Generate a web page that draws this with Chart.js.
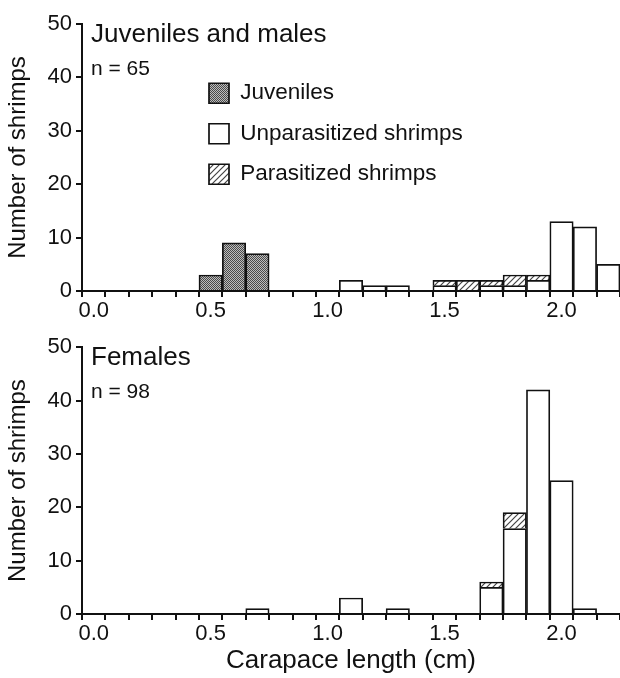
<!DOCTYPE html>
<html>
<head>
<meta charset="utf-8">
<script src="https://cdn.jsdelivr.net/npm/chart.js"></script>
<style>
  html, body { margin: 0; padding: 0; background: #fff; }
  .panel { position: absolute; left: 0; width: 620px; }
  #topPanel { top: 0; height: 330px; }
  #bottomPanel { top: 330px; height: 348px; }
</style>
</head>
<body>
<div class="panel" id="topPanel"><canvas id="maleChart"></canvas></div>
<div class="panel" id="bottomPanel"><canvas id="femaleChart"></canvas></div>
<script>
// Carapace length bins (cm), one per 0.1 cm class
var binLabels = ['0.0', '0.1', '0.2', '0.3', '0.4', '0.5', '0.6', '0.7', '0.8', '0.9', '1.0', '1.1',
                 '1.2', '1.3', '1.4', '1.5', '1.6', '1.7', '1.8', '1.9', '2.0', '2.1', '2.2'];
var yTicks = [0, 10, 20, 30, 40, 50];

// Juveniles and males (n = 65)
var maleJuveniles     = [0, 0, 0, 0, 0, 3, 9, 7, 0, 0, 0, 0, 0, 0, 0, 0, 0, 0, 0, 0, 0, 0, 0];
var maleUnparasitized = [0, 0, 0, 0, 0, 0, 0, 0, 0, 0, 0, 2, 1, 1, 0, 1, 0, 1, 1, 2, 13, 12, 5];
var maleParasitized   = [0, 0, 0, 0, 0, 0, 0, 0, 0, 0, 0, 0, 0, 0, 0, 1, 2, 1, 2, 1, 0, 0, 0];

// Females (n = 98)
var femaleUnparasitized = [0, 0, 0, 0, 0, 0, 0, 1, 0, 0, 0, 3, 0, 1, 0, 0, 0, 5, 16, 42, 25, 1, 0];
var femaleParasitized   = [0, 0, 0, 0, 0, 0, 0, 0, 0, 0, 0, 0, 0, 0, 0, 0, 0, 1, 3, 0, 0, 0, 0];

var INK = '#111';
var FONT = '"Liberation Sans", Arial, Helvetica, sans-serif';
Chart.defaults.font.family = FONT;
Chart.defaults.color = INK;

// Fill patterns: stipple for juveniles, diagonal hatch for parasitized
function makeStipple(ctx) {
  var c = document.createElement('canvas');
  c.width = 2; c.height = 2;
  var g = c.getContext('2d');
  g.fillStyle = '#bdbdbd';
  g.fillRect(0, 0, 2, 2);
  g.fillStyle = '#4a4a4a';
  g.fillRect(0, 0, 1, 1);
  g.fillRect(1, 1, 1, 1);
  return ctx.createPattern(c, 'repeat');
}

function makeHatch(ctx) {
  var c = document.createElement('canvas');
  c.width = 6; c.height = 6;
  var g = c.getContext('2d');
  g.fillStyle = '#fff';
  g.fillRect(0, 0, 6, 6);
  g.strokeStyle = '#444';
  g.lineWidth = 1.2;
  g.beginPath();
  g.moveTo(0, 6); g.lineTo(6, 0);
  g.moveTo(-1, 1); g.lineTo(1, -1);
  g.moveTo(5, 7); g.lineTo(7, 5);
  g.stroke();
  return ctx.createPattern(c, 'repeat');
}

// Panel heading + sample size, written inside the plot area
var panelLabelPlugin = {
  id: 'panelLabel',
  afterDraw: function(chart, args, opts) {
    var ctx = chart.ctx, area = chart.chartArea;
    ctx.save();
    ctx.fillStyle = INK;
    ctx.textAlign = 'left';
    ctx.textBaseline = 'alphabetic';
    ctx.font = '26px ' + FONT;
    ctx.fillText(opts.title, area.left + 9, area.top + 18);
    ctx.font = '21px ' + FONT;
    ctx.fillText(opts.note, area.left + 9, area.top + 51);
    ctx.restore();
  }
};

// Move the chartArea legend away from the top-left corner
var legendPlacePlugin = {
  id: 'legendPlace',
  afterLayout: function(chart, args, opts) {
    var lg = chart.legend;
    if (!lg || opts.left === undefined) return;
    lg.left = chart.chartArea.left + opts.left;
    lg.top = chart.chartArea.top + opts.top;
  }
};

function barSet(label, data, fill) {
  return {
    label: label,
    // empty classes are left out so no zero-height outline is drawn
    data: data.map(function(v) { return v === 0 ? null : v; }),
    backgroundColor: fill,
    borderColor: INK,
    borderWidth: 1.7,
    borderSkipped: 'start',
    barPercentage: 1,
    categoryPercentage: 1
  };
}

function makeScales(axisHeight, showXTitle) {
  return {
    x: {
      type: 'category',
      stacked: true,
      offset: true,
      border: { display: true, color: INK, width: 2 },
      grid: { offset: true, drawOnChartArea: false, drawTicks: true, tickLength: 6, color: INK, lineWidth: 2 },
      ticks: {
        color: INK,
        font: { size: 22 },
        padding: 1,
        autoSkip: false,
        maxRotation: 0,
        callback: function(value, index) {
          return index % 5 === 0 ? binLabels[index] : '';
        }
      },
      title: {
        display: showXTitle,
        text: 'Carapace length (cm)',
        color: INK,
        font: { size: 26 },
        padding: { top: 0, bottom: 2 }
      },
      afterFit: function(scale) { scale.height = axisHeight; }
    },
    y: {
      stacked: true,
      min: yTicks[0],
      max: yTicks[yTicks.length - 1],
      border: { display: true, color: INK, width: 2 },
      grid: { drawOnChartArea: false, drawTicks: true, tickLength: 6, color: INK, lineWidth: 2 },
      ticks: { stepSize: 10, color: INK, font: { size: 22 }, padding: 4 },
      title: {
        display: true,
        text: 'Number of shrimps',
        color: INK,
        font: { size: 24 },
        padding: { top: 4, bottom: 0 }
      },
      afterFit: function(scale) { scale.width = 82; }
    }
  };
}

var maleCtx = document.getElementById('maleChart').getContext('2d');
var femaleCtx = document.getElementById('femaleChart').getContext('2d');

new Chart(maleCtx, {
  type: 'bar',
  data: {
    labels: binLabels,
    datasets: [
      barSet('Juveniles', maleJuveniles, makeStipple(maleCtx)),
      barSet('Unparasitized shrimps', maleUnparasitized, '#fff'),
      barSet('Parasitized shrimps', maleParasitized, makeHatch(maleCtx))
    ]
  },
  options: {
    responsive: true,
    maintainAspectRatio: false,
    animation: false,
    layout: { padding: { top: 24, left: 0, right: 0, bottom: 0 } },
    plugins: {
      legend: {
        display: true,
        position: 'chartArea',
        align: 'start',
        labels: { boxWidth: 20, boxHeight: 20, padding: 18, color: INK, font: { size: 22.5 } }
      },
      legendPlace: { left: 109, top: 40 },
      panelLabel: { title: 'Juveniles and males', note: 'n = 65' },
      tooltip: { enabled: false }
    },
    scales: makeScales(39, false)
  },
  plugins: [panelLabelPlugin, legendPlacePlugin]
});

new Chart(femaleCtx, {
  type: 'bar',
  data: {
    labels: binLabels,
    datasets: [
      barSet('Unparasitized shrimps', femaleUnparasitized, '#fff'),
      barSet('Parasitized shrimps', femaleParasitized, makeHatch(femaleCtx))
    ]
  },
  options: {
    responsive: true,
    maintainAspectRatio: false,
    animation: false,
    layout: { padding: { top: 14, left: 0, right: 0, bottom: 0 } },
    plugins: {
      legend: { display: false },
      panelLabel: { title: 'Females', note: 'n = 98' },
      tooltip: { enabled: false }
    },
    scales: makeScales(64, true)
  },
  plugins: [panelLabelPlugin]
});
</script>
</body>
</html>
